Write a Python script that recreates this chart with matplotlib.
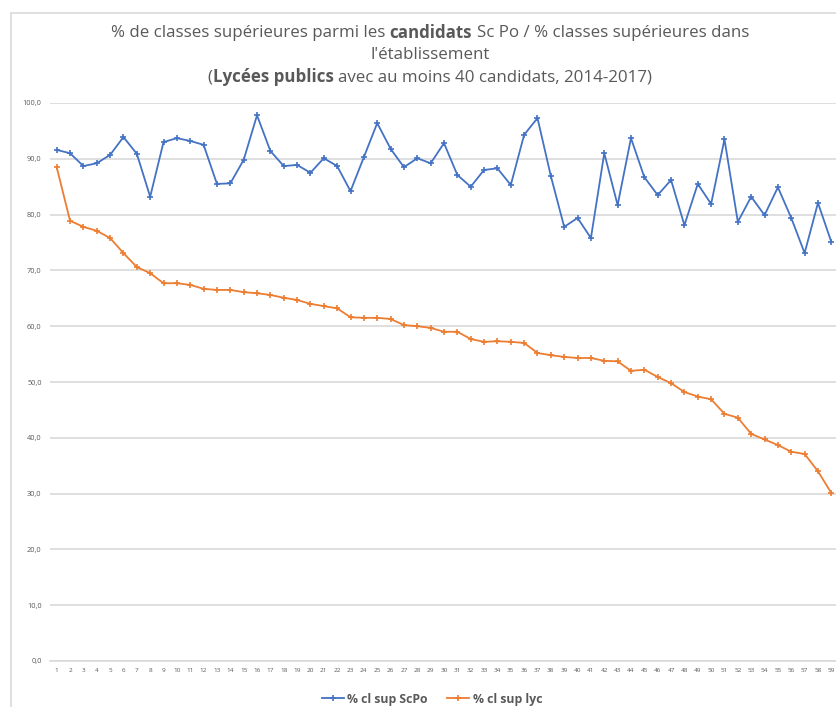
import matplotlib
matplotlib.use("Agg")
import matplotlib.pyplot as plt
from matplotlib.patches import Rectangle
from matplotlib.ticker import FuncFormatter

plt.rcParams['font.family'] = ['Open Sans', 'DejaVu Sans']

# rang du lycée (1..59)
lycees = list(range(1, 60))

# % de classes supérieures parmi les candidats Sc Po
cl_sup_scpo = [91.6, 91.0, 88.7, 89.2, 90.7, 93.9, 90.9, 83.2, 93.0, 93.7,
               93.2, 92.5, 85.5, 85.6, 89.8, 97.8, 91.4, 88.7, 88.9, 87.5,
               90.1, 88.7, 84.2, 90.3, 96.4, 91.8, 88.5, 90.1, 89.2, 92.8,
               87.1, 85.0, 88.0, 88.3, 85.3, 94.3, 97.3, 86.9, 77.8, 79.4,
               75.8, 91.0, 81.7, 93.7, 86.7, 83.5, 86.2, 78.1, 85.5, 81.9,
               93.5, 78.7, 83.2, 79.9, 84.9, 79.4, 73.1, 82.1, 75.1]

# % de classes supérieures dans le lycée
cl_sup_lyc = [88.5, 78.9, 77.8, 77.1, 75.8, 73.1, 70.6, 69.5, 67.7, 67.7,
              67.4, 66.7, 66.5, 66.5, 66.1, 65.9, 65.6, 65.1, 64.7, 64.0,
              63.6, 63.2, 61.6, 61.5, 61.5, 61.3, 60.2, 60.0, 59.7, 59.0,
              59.0, 57.7, 57.2, 57.3, 57.2, 57.0, 55.2, 54.8, 54.5, 54.3,
              54.3, 53.8, 53.7, 52.0, 52.2, 50.9, 49.8, 48.2, 47.4, 46.9,
              44.3, 43.6, 40.7, 39.7, 38.7, 37.5, 37.1, 34.0, 30.1]

W, H = 837, 707
fig = plt.figure(figsize=(W / 100, H / 100), dpi=100)
ax = fig.add_axes([50 / W, 46 / H, 788 / W, 558 / H])

grey_txt = '#595959'
grid_col = '#D9D9D9'

ax.plot(lycees, cl_sup_scpo, color='#4472C4', lw=1.3, marker='+', ms=4, mew=1.2,
        label='% cl sup ScPo')
ax.plot(lycees, cl_sup_lyc, color='#ED7D31', lw=1.3, marker='+', ms=4, mew=1.2,
        label='% cl sup lyc')

ax.set_xlim(0.5, 59.5)
ax.set_ylim(0, 100)
ax.set_yticks(range(0, 101, 10))
ax.yaxis.set_major_formatter(FuncFormatter(lambda v, p: f"{v:.1f}".replace('.', ',')))
ax.set_xticks(lycees)
ax.set_xticklabels([str(i) for i in lycees])
ax.tick_params(axis='y', length=0, labelsize=5.3, labelcolor=grey_txt, pad=6)
ax.tick_params(axis='x', length=0, labelsize=4.6, labelcolor=grey_txt, pad=5)
ax.grid(axis='y', color=grid_col, lw=1.2)
ax.set_axisbelow(True)
for s in ['top', 'right', 'left']:
    ax.spines[s].set_visible(False)
ax.spines['bottom'].set_color(grid_col)
ax.spines['bottom'].set_linewidth(1.2)

# cadre du graphique (coupé à droite et en bas)
fig.patches.append(Rectangle((11 / W, -0.1), 1.2, 1 - 13 / H + 0.1,
                             transform=fig.transFigure, fill=False,
                             edgecolor=grid_col, lw=1.2))

fig.legend(loc='center', bbox_to_anchor=(432 / W, 1 - 699 / H), ncol=2,
           frameon=False, handlelength=1.8, handletextpad=0.3, columnspacing=1.6,
           prop={'weight': 'bold', 'size': 8.8}, labelcolor=grey_txt)

# titre avec des mots en gras
renderer = fig.canvas.get_renderer()
tsize = 12.2


def text_width(s, weight='normal'):
    t = fig.text(0, 0, s, fontsize=tsize, fontweight=weight)
    w = t.get_window_extent(renderer).width
    t.remove()
    return w


space = text_width('x x') - text_width('xx')


def title_line(y_px, parts, cx=430):
    # parts: (texte, graisse, espace avant)
    widths = [text_width(s, w) for s, w, g in parts]
    total = sum(widths) + sum(space for s, w, g in parts[1:] if g)
    x = cx - total / 2
    for i, ((s, w, g), wd) in enumerate(zip(parts, widths)):
        if i > 0 and g:
            x += space
        fig.text(x / W, 1 - y_px / H, s, fontsize=tsize, fontweight=w,
                 color=grey_txt, va='center', ha='left')
        x += wd


title_line(33, [('% de classes supérieures parmi les', 'normal', False),
                ('candidats', 'bold', True),
                ('Sc Po / % classes supérieures dans', 'normal', True)])
title_line(55, [("l'établissement", 'normal', False)])
title_line(77, [('(', 'normal', False), ('Lycées publics', 'bold', False),
                ('avec au moins 40 candidats, 2014-2017)', 'normal', True)])

fig.savefig('out.png', dpi=100)
